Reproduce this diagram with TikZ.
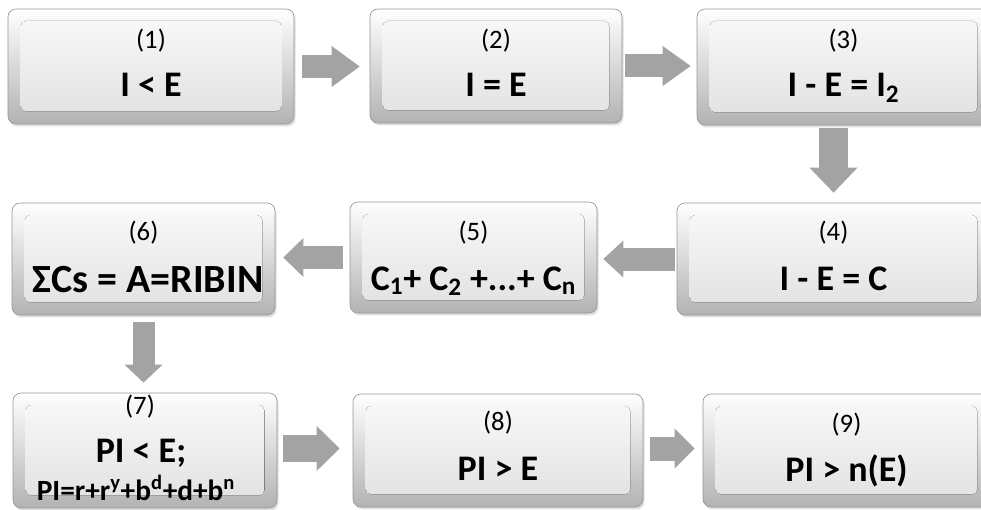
\documentclass[tikz,border=0pt]{standalone}
\usepackage{fontspec}
\setmainfont{Carlito}
\usetikzlibrary{arrows.meta,shadows}
\definecolor{arrowgray}{RGB}{163,163,163}
\definecolor{edgegray}{RGB}{150,150,150}
\tikzset{
  stepbox/.style={rounded corners=6pt, draw=edgegray, line width=0.5pt,
    top color=white, bottom color=black!30, inner sep=0pt,
    drop shadow={opacity=0.25, shadow xshift=1.2pt, shadow yshift=-1.8pt},
    path picture={\fill[top color=black!2, bottom color=black!12, rounded corners=4pt]
      ([shift={(9.5pt,-9pt)}]path picture bounding box.north west) rectangle
      ([shift={(-9.5pt,9.5pt)}]path picture bounding box.south east);}},
  numlabel/.style={anchor=base, font=\fontsize{20}{22}\selectfont},
  mainlabel/.style={anchor=base, font=\fontsize{27}{30}\selectfont\bfseries},
  biglabel/.style={anchor=base, font=\fontsize{30}{33}\selectfont\bfseries},
  formlabel/.style={anchor=base, font=\fontsize{22}{24}\selectfont\bfseries},
  blockarrow/.style n args={3}{draw=arrowgray, line width=#1,
    -{Triangle[width=#2, length=#3, line width=0pt]}},
}
\begin{document}
\begin{tikzpicture}[x=0.75pt, y=-0.75pt]
\useasboundingbox (0,0) rectangle (981,510);
% boxes
\node[stepbox, minimum width=214.5pt, minimum height=86.25pt] (b1) at (151,66.5) {};
\node[stepbox, minimum width=189pt,   minimum height=85.5pt]  (b2) at (496,66) {};
\node[stepbox, minimum width=219.75pt,minimum height=87pt]    (b3) at (843.5,67) {};
\node[stepbox, minimum width=234.75pt,minimum height=84pt]    (b4) at (833.5,259) {};
\node[stepbox, minimum width=185.25pt,minimum height=83.25pt] (b5) at (473.5,257.5) {};
\node[stepbox, minimum width=197.25pt,minimum height=84pt]    (b6) at (143.5,259) {};
\node[stepbox, minimum width=198pt,   minimum height=86.25pt] (b7) at (145,450.5) {};
\node[stepbox, minimum width=217.5pt, minimum height=84.75pt] (b8) at (498,450.5) {};
\node[stepbox, minimum width=215.25pt,minimum height=84.75pt] (b9) at (846.5,450.5) {};
% labels
\node[numlabel]  (n1) at (151,49) {(1)};
\node[mainlabel] (m1) at (151,97) {I < E};
\node[numlabel]  (n2) at (496,49) {(2)};
\node[mainlabel] (m2) at (496,97) {I = E};
\node[numlabel]  (n3) at (843.5,49) {(3)};
\node[mainlabel] (m3) at (843.5,97) {I - E = I\textsubscript{2}};
\node[numlabel]  (n4) at (833.5,240) {(4)};
\node[mainlabel] (m4) at (833.5,290) {I - E = C};
\node[numlabel]  (n5) at (473.5,240) {(5)};
\node[mainlabel] (m5) at (473.5,290) {C\textsubscript{1}+ C\textsubscript{2} +...+ C\textsubscript{n}};
\node[numlabel]  (n6) at (143.5,240) {(6)};
\node[biglabel]  (m6) at (148,292) {ΣCs = A=RIBIN};
\node[numlabel]  (n7) at (140,414) {(7)};
\node[mainlabel] (m7) at (141,462) {PI < E;};
\node[formlabel] (f7) at (136,500) {PI=r+r\textsuperscript{y}+b\textsuperscript{d}+d+b\textsuperscript{n}};
\node[numlabel]  (n8) at (498,430) {(8)};
\node[mainlabel] (m8) at (498,480) {PI > E};
\node[numlabel]  (n9) at (846.5,432) {(9)};
\node[mainlabel] (m9) at (846.5,481) {PI > n(E)};
% arrows
\draw[blockarrow={17.25pt}{30.75pt}{21pt}, shorten <=6pt, shorten >=7.5pt] (b1.east) -- (b1.east -| b2.west);
\draw[blockarrow={17.25pt}{30pt}{21pt}, shorten <=2.25pt, shorten >=4.5pt] (b2.east) -- (b2.east -| b3.west);
\draw[blockarrow={21.75pt}{36pt}{18.75pt}, shorten <=2.25pt, shorten >=7.5pt] (b4.north |- b3.south) -- (b4.north);
\draw[blockarrow={17.25pt}{27.75pt}{15pt}, shorten <=1.5pt, shorten >=4.5pt] (b4.west) -- (b4.west -| b5.east);
\draw[blockarrow={17.25pt}{29.25pt}{15pt}, shorten <=5.25pt, shorten >=6pt] (b5.west) -- (b5.west -| b6.east);
\draw[blockarrow={16.5pt}{28.5pt}{13.5pt}, shorten <=5.25pt, shorten >=7.5pt] (b6.south) -- (b6.south |- b7.north);
\draw[blockarrow={20.25pt}{33.75pt}{17.25pt}, shorten <=4.5pt, shorten >=9.75pt] ([yshift=1.5pt]b7.east) -- ([yshift=1.5pt]b7.east -| b8.west);
\draw[blockarrow={18pt}{30pt}{15pt}, shorten <=5.25pt, shorten >=6pt] ([yshift=1.5pt]b8.east) -- ([yshift=1.5pt]b8.east -| b9.west);
\end{tikzpicture}
\end{document}
